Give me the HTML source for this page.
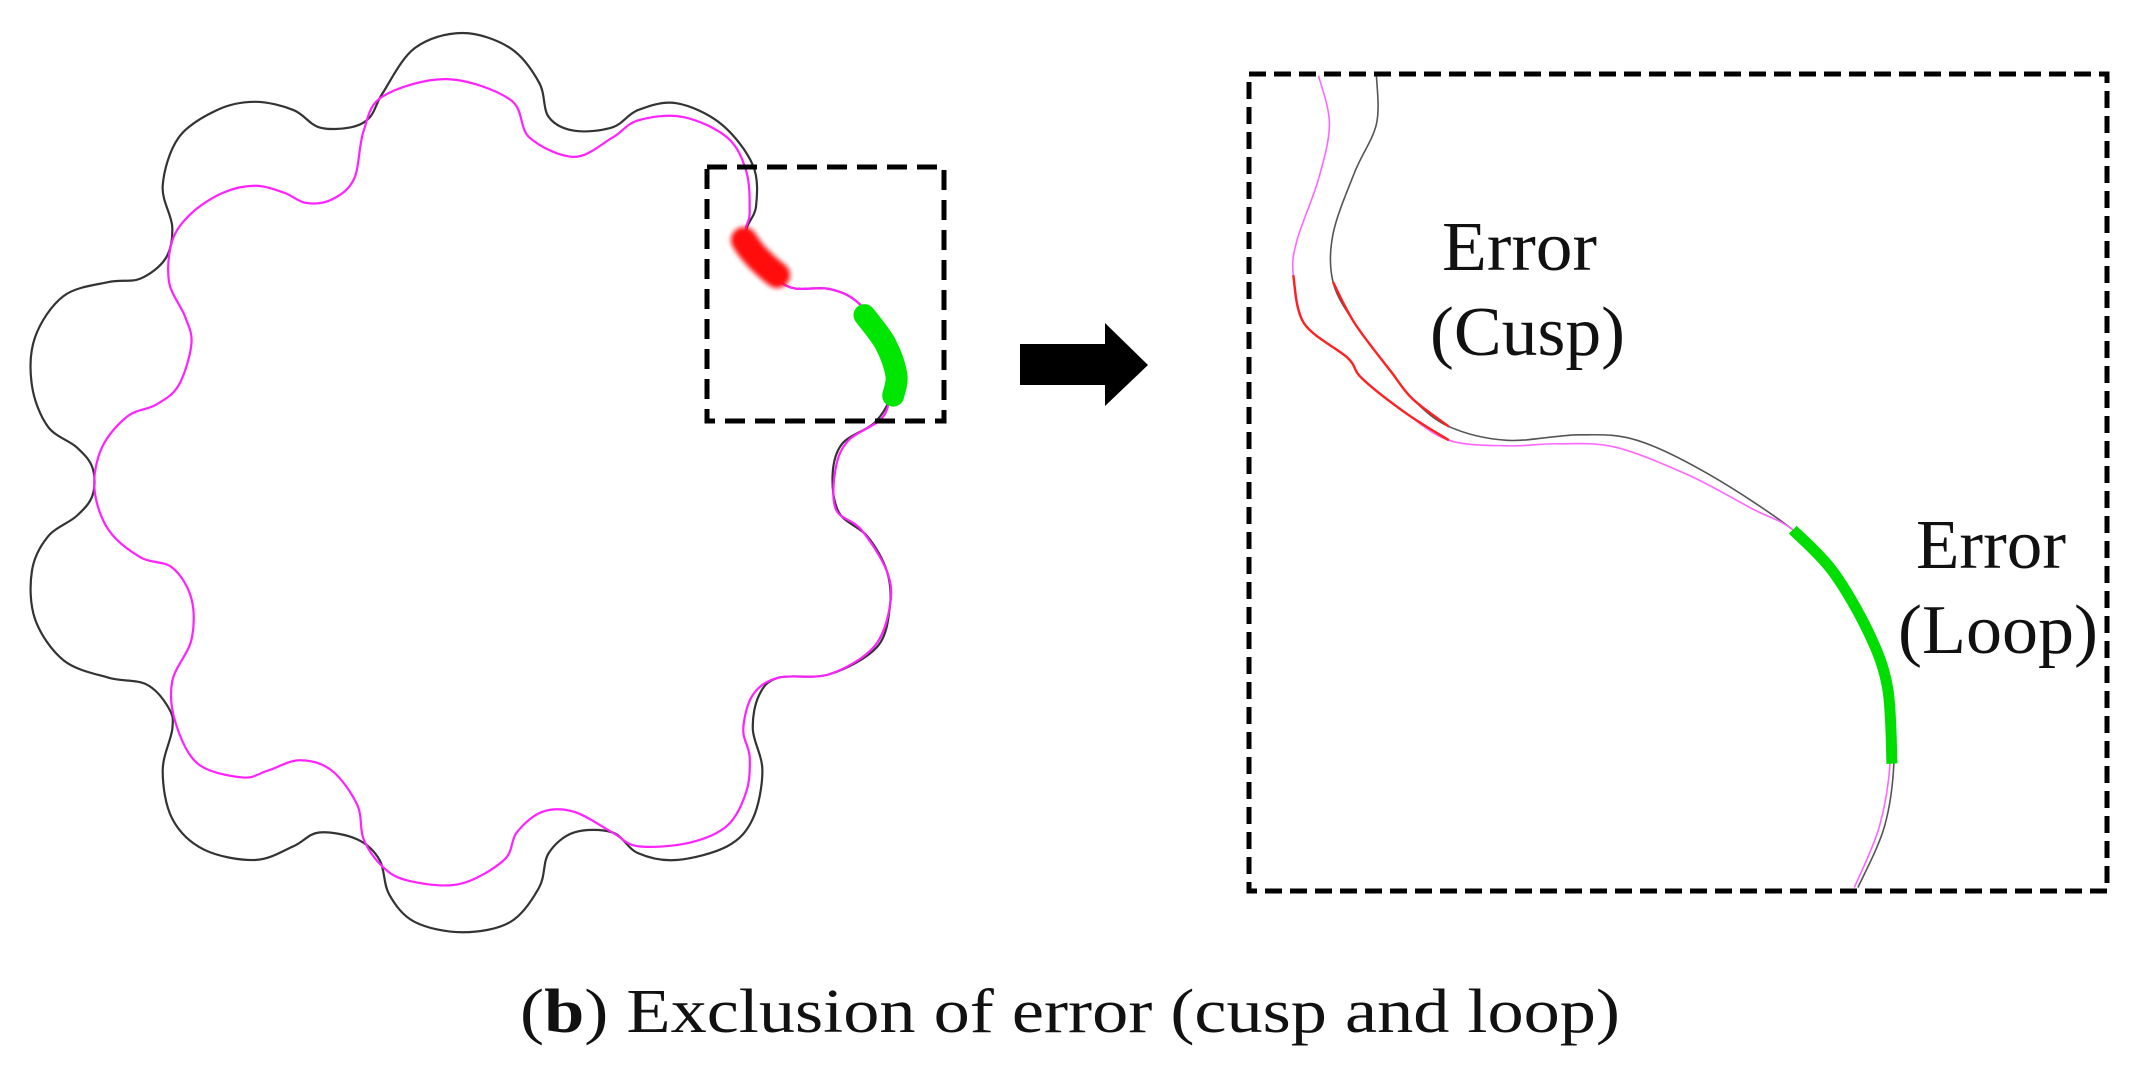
<!DOCTYPE html>
<html><head><meta charset="utf-8"><style>
html,body{margin:0;padding:0;background:#fff;}
svg{display:block;}
text{font-family:"Liberation Serif","Times New Roman",Times,serif;fill:#111;}
</style></head><body>
<svg id="s" width="2135" height="1079" viewBox="0 0 2135 1079" xmlns="http://www.w3.org/2000/svg">
<defs><filter id="bl" filterUnits="userSpaceOnUse" x="0" y="0" width="2135" height="1079"><feGaussianBlur stdDeviation="2.5"/></filter></defs>
<g transform="scale(0.638,0.688)">
  <path id="blk" fill="none" stroke="#333" stroke-width="2.2" vector-effect="non-scaling-stroke"/>
  <path id="mag" fill="none" stroke="#ff22ff" stroke-width="2.2" vector-effect="non-scaling-stroke"/>
</g>
<path id="red" fill="none" stroke="#ff1010" stroke-width="26" stroke-linecap="round" filter="url(#bl)"/>
<g transform="scale(0.638,0.688)">
  <path id="grn" fill="none" stroke="#00e600" stroke-width="22" stroke-linecap="round" vector-effect="non-scaling-stroke"/>
</g>
<rect x="707" y="167" width="237" height="254" fill="none" stroke="#000" stroke-width="5" stroke-dasharray="20,10"/>
<g transform="translate(1000,0) scale(0.724,0.688)">
  <path id="rb" fill="none" stroke="#555" stroke-width="1.6" vector-effect="non-scaling-stroke"/>
  <path id="rm" fill="none" stroke="#ff66ff" stroke-width="1.6" vector-effect="non-scaling-stroke"/>
  <path id="rr1" fill="none" stroke="#ff2020" stroke-width="2.4" vector-effect="non-scaling-stroke"/>
  <path id="rr2" fill="none" stroke="#ff2020" stroke-width="2.4" vector-effect="non-scaling-stroke"/>
  <path id="rg" fill="none" stroke="#00dd00" stroke-width="11" vector-effect="non-scaling-stroke"/>
</g>
<rect x="1249" y="74" width="858" height="817" fill="none" stroke="#000" stroke-width="5" stroke-dasharray="17,8"/>
<polygon points="1020,344 1105,344 1105,323 1148,365 1105,406 1105,385 1020,385" fill="#000"/>
<text font-family="Liberation Serif, serif" x="1442" y="270" font-size="70" textLength="155" lengthAdjust="spacingAndGlyphs">Error</text>
<text font-family="Liberation Serif, serif" x="1430" y="355" font-size="70" textLength="195" lengthAdjust="spacingAndGlyphs">(Cusp)</text>
<text font-family="Liberation Serif, serif" x="1916" y="568" font-size="70" textLength="150" lengthAdjust="spacingAndGlyphs">Error</text>
<text font-family="Liberation Serif, serif" x="1898" y="653" font-size="70" textLength="200" lengthAdjust="spacingAndGlyphs">(Loop)</text>
<text font-family="Liberation Serif, serif" x="520" y="1032" font-size="62" textLength="1100" lengthAdjust="spacingAndGlyphs">(<tspan font-weight="bold">b</tspan>) Exclusion of error (cusp and loop)</text>
</svg>
<script>
function cr(p,closed){
  var n=p.length,d="M"+p[0][0]+","+p[0][1];
  var m=closed?n:n-1;
  for(var i=0;i<m;i++){
    var p0=p[(i-1+n)%n],p1=p[i],p2=p[(i+1)%n],p3=p[(i+2)%n];
    if(!closed){if(i==0)p0=p1;if(i+2>=n)p3=p2;}
    var c1=[p1[0]+(p2[0]-p0[0])/6,p1[1]+(p2[1]-p0[1])/6];
    var c2=[p2[0]-(p3[0]-p1[0])/6,p2[1]-(p3[1]-p1[1])/6];
    d+=" C"+c1[0].toFixed(1)+","+c1[1].toFixed(1)+" "+c2[0].toFixed(1)+","+c2[1].toFixed(1)+" "+p2[0]+","+p2[1];
  }
  return closed?d+"Z":d;
}
var M=[[570,190],[600,140],[700,115],[800,145],[830,200],[900,228],[960,200],[1000,175],[1070,170],[1140,200],[1170,250],[1175,310],[1170,340],[1200,390],[1240,418],[1300,420],[1345,440],[1385,490],[1405,540],[1395,580],[1380,610],[1330,640],[1310,680],[1310,740],[1350,770],[1390,830],[1395,880],[1370,940],[1300,980],[1220,985],[1180,1010],[1165,1060],[1175,1100],[1170,1150],[1140,1200],[1080,1225],[1000,1230],[960,1210],[900,1180],[850,1180],[810,1210],[790,1250],[720,1285],[640,1280],[600,1260],[570,1220],[560,1170],[520,1120],[470,1105],[420,1120],[380,1130],[310,1110],[275,1050],[270,990],[300,930],[300,870],[270,825],[220,810],[170,770],[148,710],[160,650],[200,605],[245,588],[280,560],[300,500],[290,460],[265,410],[270,350],[300,310],[350,280],[400,270],[445,280],[480,295],[520,290],[555,260]];
var B=[[600,135],[650,70],[725,48],[800,70],[845,120],[860,170],[900,190],[960,185],[1000,160],[1060,150],[1130,180],[1180,240],[1185,300],[1170,340],[1200,390],[1240,418],[1300,420],[1345,440],[1385,490],[1405,540],[1395,580],[1370,615],[1320,645],[1305,690],[1315,745],[1360,780],[1390,830],[1395,880],[1375,940],[1300,980],[1220,985],[1190,1010],[1180,1060],[1195,1120],[1180,1190],[1140,1230],[1060,1250],[1000,1240],[960,1210],[900,1210],[860,1240],[845,1290],[800,1340],[725,1355],[650,1340],[610,1300],[595,1250],[560,1220],[500,1210],[460,1230],[400,1250],[320,1235],[270,1190],[255,1120],[270,1060],[265,1030],[230,995],[170,985],[100,960],[55,900],[50,830],[75,780],[120,750],[145,720],[145,680],[120,650],[75,620],[50,560],[55,490],[100,430],[170,410],[220,405],[260,375],[270,330],[255,270],[280,200],[340,160],[400,148],[460,160],[500,185],[550,185],[580,170]];
document.getElementById("mag").setAttribute("d",cr(M,true));
document.getElementById("blk").setAttribute("d",cr(B,true));
document.getElementById("red").setAttribute("d","M744,240 C752,254 764,265 777,275");
document.getElementById("grn").setAttribute("d",cr([[1355,458],[1388,500],[1405,545],[1400,575]],false));
var RM=[[440,110],[455,180],[440,260],[410,350],[405,400],[420,470],[480,520],[500,550],[560,600],[620,640],[700,648],[770,645],[850,650],[950,690],[1040,740],[1095,770],[1150,830],[1200,920],[1225,1000],[1230,1100],[1215,1200],[1180,1290]];
var RB=[[520,110],[520,180],[490,250],[460,340],[460,410],[490,470],[540,540],[570,580],[620,620],[700,640],[800,632],[880,640],[980,690],[1095,770],[1150,830],[1200,920],[1228,1000],[1235,1100],[1222,1200],[1185,1290]];
document.getElementById("rm").setAttribute("d",cr(RM,false));
document.getElementById("rb").setAttribute("d",cr(RB,false));
document.getElementById("rr1").setAttribute("d",cr(RM.slice(4,10),false));
document.getElementById("rr2").setAttribute("d",cr(RB.slice(4,9),false));
document.getElementById("rg").setAttribute("d",cr([[1095,770],[1150,830],[1200,920],[1226,1000],[1232,1110]],false));
</script>
</body></html>
